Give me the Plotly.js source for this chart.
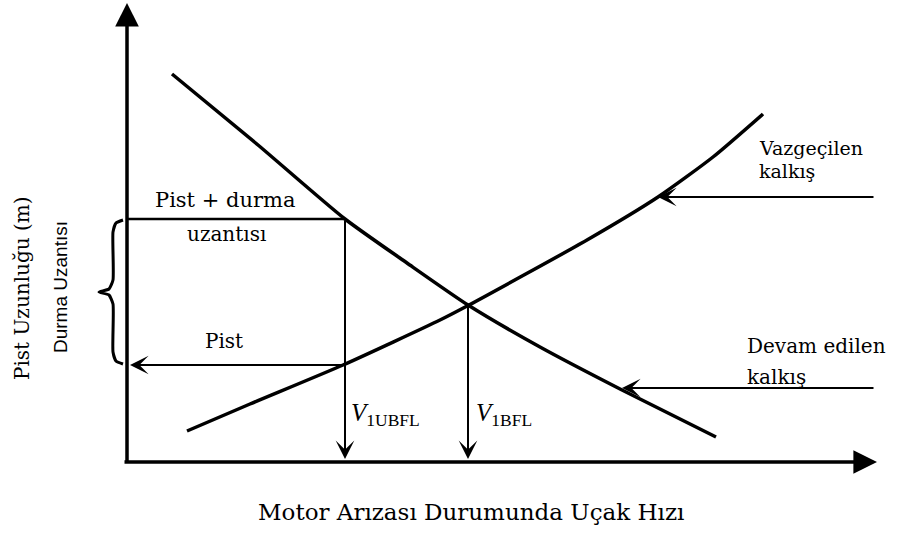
<!DOCTYPE html>
<html>
<head>
<meta charset="utf-8">
<script src="https://cdn.plot.ly/plotly-3.0.1.min.js"></script>
<style>html,body{margin:0;padding:0;background:#fff;}#chart{width:899px;height:544px;}</style>
</head>
<body>
<div id="chart"></div>
<script>
// Schematic units: x = engine-failure speed, y = runway length (origin at axes corner)
var devamX = [45, 131, 218, 280, 341, 413, 495, 589];
var devamY = [388, 317, 243, 199, 157, 115, 72, 25];
var vazgecX = [60, 123, 216, 313, 342, 460, 531, 586, 636];
var vazgecY = [31, 58, 97, 142, 157, 222, 265, 305, 348];
var braceX = [-4, -11, -14, -14, -18, -28, -18, -14, -14, -11, -4];
var braceY = [242, 239, 230, 182, 173, 170, 167, 158, 110, 101, 98];
var v1ubfl = 218, v1bfl = 341;
var pistDurma = 243, pist = 97;
var axisXEnd = 750, axisYEnd = 459;
var labels = {
  xTitle: "Motor Arızası Durumunda Uçak Hızı",
  yTitle: "Pist Uzunluğu (m)",
  brace: "Durma Uzantısı",
  pd1: "Pist + durma", pd2: "uzantısı", pist: "Pist",
  vz1: "Vazgeçilen", vz2: "kalkış", dv1: "Devam edilen", dv2: "kalkış",
  v1u: "<i>V</i><sub>1UBFL</sub>", v1b: "<i>V</i><sub>1BFL</sub>"
};

var serif = "DejaVu Serif, Liberation Serif, serif";
var times = "Liberation Serif, Times New Roman, serif";
var blk = "#000";
var traces = [
  {x: devamX, y: devamY, mode: "lines", line: {color: blk, width: 3.5, shape: "spline", smoothing: 0.6}, hoverinfo: "skip"},
  {x: vazgecX, y: vazgecY, mode: "lines", line: {color: blk, width: 3.5, shape: "spline", smoothing: 0.6}, hoverinfo: "skip"},
  {x: [0, v1ubfl], y: [pistDurma, pistDurma], mode: "lines", line: {color: blk, width: 2.5}, hoverinfo: "skip"},
  {x: braceX, y: braceY, mode: "lines", line: {color: blk, width: 3, shape: "spline", smoothing: 0.5}, hoverinfo: "skip"}
];

function arrow(tipX, tipY, tailX, tailY, head, w, size) {
  return {x: tipX, y: tipY, ax: tailX, ay: tailY, xref: "x", yref: "y", axref: "x", ayref: "y",
    text: "", showarrow: true, arrowhead: head, arrowwidth: w, arrowsize: size, arrowcolor: blk, standoff: 0, startstandoff: 0};
}
function label(t, x, y, size, xa, fam, angle) {
  return {x: x, y: y, xref: "x", yref: "y", text: t, showarrow: false, xanchor: xa || "center", yanchor: "middle",
    textangle: angle || 0, font: {family: fam || serif, size: size, color: blk}};
}

var ann = [
  arrow(0, axisYEnd, 0, -2, 2, 3.5, 1.35),
  arrow(axisXEnd, 0, -4, 0, 2, 3.5, 1.35),
  arrow(v1ubfl, 3, v1ubfl, pistDurma, 3, 2, 1.55),
  arrow(v1bfl, 3, v1bfl, 157, 3, 2, 1.55),
  arrow(3, pist, v1ubfl, pist, 3, 2, 1.55),
  arrow(531, 265, 748, 265, 3, 2, 1.55),
  arrow(495, 74, 748, 74, 3, 2, 1.55),
  label(labels.pd1, 98, 262, 21),
  label(labels.pd2, 99, 228, 20),
  label(labels.pist, 97, 121, 20),
  label(labels.vz1, 630, 314, 19, "left"),
  label(labels.vz2, 630, 291, 19, "left"),
  label(labels.dv1, 618, 116, 20, "left"),
  label(labels.dv2, 618, 85, 20, "left"),
  label(labels.v1u, 222, 48, 25, "left", times),
  label(labels.v1b, 347, 48, 25, "left", times),
  label(labels.xTitle, 344, -50, 23),
  label(labels.yTitle, -105, 174, 20, "center", serif, -90),
  label(labels.brace, -67, 175, 19, "center", "Liberation Sans Narrow, Arial Narrow, Liberation Sans, sans-serif", -90)
];

var layout = {
  width: 899, height: 544,
  margin: {l: 0, r: 0, t: 0, b: 0},
  paper_bgcolor: "#fff", plot_bgcolor: "#fff",
  showlegend: false,
  xaxis: {range: [-127, 772], visible: false, fixedrange: true},
  yaxis: {range: [-82, 462], visible: false, fixedrange: true},
  annotations: ann
};
Plotly.newPlot("chart", traces, layout, {staticPlot: true});
</script>
</body>
</html>
